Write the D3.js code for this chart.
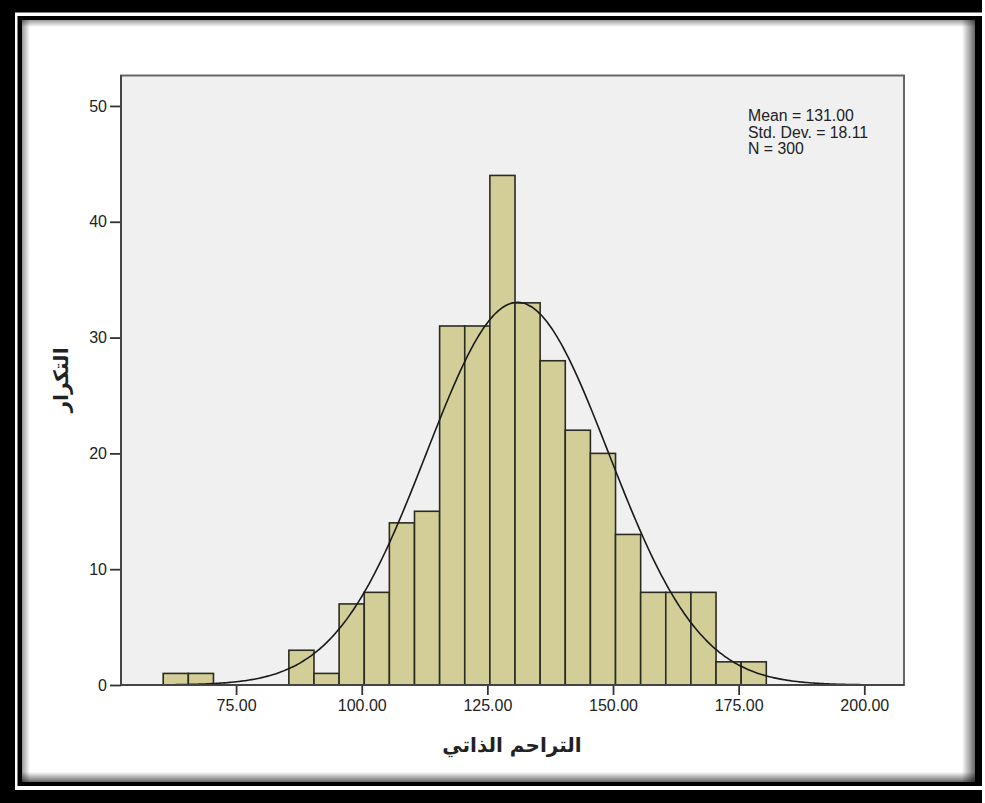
<!DOCTYPE html>
<html>
<head>
<meta charset="utf-8">
<script src="https://cdn.jsdelivr.net/npm/d3@7"></script>
<style>
body{margin:0;background:#fff;}
text{font-family:"Liberation Sans",Arial,sans-serif;fill:#222;}
</style>
</head>
<body>
<div id="chart"></div>
<script>
// histogram bins (lower bound of each 5-wide bin) and frequencies
const binLow=[60.5,65.5,70.5,75.5,80.5,85.5,90.5,95.5,100.5,105.5,110.5,115.5,120.5,125.5,130.5,135.5,140.5,145.5,150.5,155.5,160.5,165.5,170.5,175.5];
const freq=[1,1,0,0,0,3,1,7,8,14,15,31,31,44,33,28,22,20,13,8,8,8,2,2];
const binWidth=5;
const xTicks=[75,100,125,150,175,200];
const yTicks=[0,10,20,30,40,50];
const stats={mean:131.00,sd:18.11,n:300};
const statLines=["Mean = 131.00","Std. Dev. = 18.11","N = 300"];
const xLabel="التراحم الذاتي";
const yLabel="التكرار";

const W=985,H=803;
const plot={left:121,top:75.5,right:904,bottom:685};

const svg=d3.select("#chart").append("svg")
    .attr("width",W).attr("height",H);

// picture frame
const defs=svg.append("defs");
function grad(id,x1,y1,x2,y2,op){
    const g=defs.append("linearGradient").attr("id",id)
        .attr("x1",x1).attr("y1",y1).attr("x2",x2).attr("y2",y2);
    g.append("stop").attr("offset","0").attr("stop-color","#000").attr("stop-opacity",op);
    g.append("stop").attr("offset","1").attr("stop-color","#000").attr("stop-opacity",0);
}
grad("gl",0,0,1,0,0.4); grad("gt",0,0,0,1,0.4); grad("gr",1,0,0,0,0.6); grad("gb",0,1,0,0,0.6);

svg.append("rect").attr("x",0).attr("y",0).attr("width",982).attr("height",H).attr("fill","#000");
svg.append("rect").attr("x",15).attr("y",12.5).attr("width",967).attr("height",777.5).attr("fill","#fff");
svg.append("rect").attr("x",17.5).attr("y",16).attr("width",964.5).attr("height",770).attr("fill","#000");
svg.append("rect").attr("x",22).attr("y",20).attr("width",953).attr("height",762).attr("fill","#fff");
svg.append("rect").attr("x",22).attr("y",20).attr("width",8).attr("height",762).attr("fill","url(#gl)");
svg.append("rect").attr("x",22).attr("y",20).attr("width",953).attr("height",7).attr("fill","url(#gt)");
svg.append("rect").attr("x",962).attr("y",20).attr("width",13).attr("height",762).attr("fill","url(#gr)");
svg.append("rect").attr("x",22).attr("y",772).attr("width",953).attr("height",10).attr("fill","url(#gb)");

const x=d3.scaleLinear().domain([52.1,207.9]).range([plot.left,plot.right]);
const y=d3.scaleLinear().domain([0,52.63]).range([plot.bottom,plot.top]);

// plot background
svg.append("rect")
    .attr("x",plot.left).attr("y",plot.top)
    .attr("width",plot.right-plot.left).attr("height",plot.bottom-plot.top)
    .attr("fill","#f0f0f0");

// bars
const bins=binLow.map((b,i)=>({x0:b,x1:b+binWidth,n:freq[i]})).filter(d=>d.n>0);
svg.append("g").selectAll("rect")
    .data(bins)
    .join("rect")
    .attr("x",d=>x(d.x0))
    .attr("y",d=>y(d.n))
    .attr("width",d=>x(d.x1)-x(d.x0))
    .attr("height",d=>y(0)-y(d.n))
    .attr("fill","#d3ce98")
    .attr("stroke","#2b2b22")
    .attr("stroke-width",1.6);

// normal curve
const pdf=v=>stats.n*binWidth/(stats.sd*Math.sqrt(2*Math.PI))*Math.exp(-0.5*Math.pow((v-stats.mean)/stats.sd,2));
const xs=d3.range(x.domain()[0],x.domain()[1]+0.01,0.5);
svg.append("path")
    .datum(xs)
    .attr("fill","none")
    .attr("stroke","#1a1a1a")
    .attr("stroke-width",1.6)
    .attr("d",d3.line().x(d=>x(d)).y(d=>y(pdf(d))).curve(d3.curveBasis));

// plot border
svg.append("rect")
    .attr("x",plot.left).attr("y",plot.top)
    .attr("width",plot.right-plot.left).attr("height",plot.bottom-plot.top)
    .attr("fill","none").attr("stroke","#666").attr("stroke-width",2);

// axes
const yAxis=svg.append("g")
    .attr("transform",`translate(${plot.left},0)`)
    .call(d3.axisLeft(y).tickValues(yTicks).tickSize(11).tickPadding(3).tickFormat(d3.format("d")));
const xAxis=svg.append("g")
    .attr("transform",`translate(0,${plot.bottom})`)
    .call(d3.axisBottom(x).tickValues(xTicks).tickSize(10).tickPadding(5).tickFormat(d3.format(".2f")));
[yAxis,xAxis].forEach(a=>{
    a.select(".domain").remove();
    a.selectAll(".tick line").attr("stroke","#333").attr("stroke-width",1.8);
    a.selectAll(".tick text").style("font-size","16px").attr("fill","#222")
        .style("font-family","'Liberation Sans',Arial,sans-serif");
});
svg.append("line")
    .attr("x1",plot.left).attr("x2",plot.left)
    .attr("y1",plot.top).attr("y2",plot.bottom)
    .attr("stroke","#444").attr("stroke-width",2);
svg.append("line")
    .attr("x1",plot.left).attr("x2",plot.right)
    .attr("y1",plot.bottom).attr("y2",plot.bottom)
    .attr("stroke","#444").attr("stroke-width",2);

// stats text
svg.append("g").selectAll("text")
    .data(statLines)
    .join("text")
    .attr("x",748)
    .attr("y",(d,i)=>121+i*16.7)
    .style("font-size","15.8px")
    .text(d=>d);

// axis titles
svg.append("text")
    .attr("x",512).attr("y",752)
    .attr("text-anchor","middle")
    .style("font-family","'DejaVu Sans',sans-serif")
    .style("font-weight","bold")
    .style("font-size","20px")
    .attr("fill","#111")
    .text(xLabel);
svg.append("text")
    .attr("transform","translate(68,380) rotate(-90)")
    .attr("text-anchor","middle")
    .style("font-family","'DejaVu Sans',sans-serif")
    .style("font-weight","bold")
    .style("font-size","20px")
    .attr("fill","#111")
    .text(yLabel);
</script>
</body>
</html>
